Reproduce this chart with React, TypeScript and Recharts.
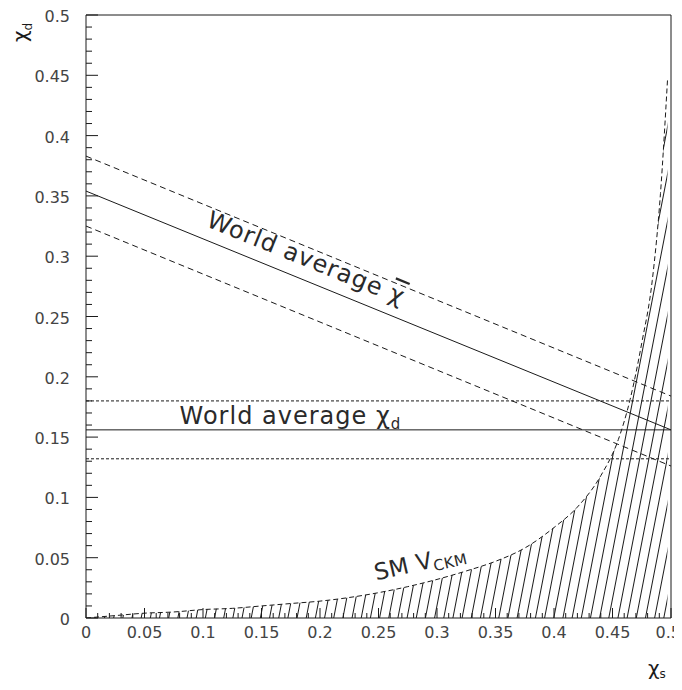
import { ComposedChart, Area, XAxis, YAxis, ReferenceLine, ReferenceDot } from 'recharts';

// SM expectation: chi_d as a function of chi_s (upper edge of the hatched region)
const chiS = [0, 0.025, 0.05, 0.075, 0.1, 0.125, 0.15, 0.175, 0.2, 0.225, 0.25, 0.275, 0.3, 0.325, 0.35, 0.375, 0.4, 0.42, 0.44, 0.455, 0.465, 0.475, 0.484, 0.491, 0.497];
const smChiD = [0, 0.002, 0.004, 0.005, 0.007, 0.008, 0.01, 0.012, 0.014, 0.017, 0.021, 0.026, 0.032, 0.039, 0.047, 0.058, 0.075, 0.092, 0.118, 0.148, 0.181, 0.228, 0.28, 0.352, 0.446];

// World average chi-bar band, as chi_d at chi_s = 0 and chi_s = 0.5
const chiBarCentral = [0.354, 0.156];
const chiBarUpper = [0.383, 0.184];
const chiBarLower = [0.325, 0.126];

// World average chi_d and its error band
const chiDCentral = 0.156;
const chiDUpper = 0.18;
const chiDLower = 0.132;

const majorTicks = [0, 0.05, 0.1, 0.15, 0.2, 0.25, 0.3, 0.35, 0.4, 0.45, 0.5];
const tickLabels = ['0', '0.05', '0.1', '0.15', '0.2', '0.25', '0.3', '0.35', '0.4', '0.45', '0.5'];
const allTicks = Array.from({ length: 51 }, (_, i) => i / 100);

const data = chiS.map((s, i) => ({ chiS: s, smChiD: smChiD[i] }));

const INK = '#1a1a1a';
const FONT = '"DejaVu Sans", Verdana, sans-serif';

const majorIndex = (v: number) => majorTicks.findIndex((m) => Math.abs(m - v) < 1e-6);

const XTick = ({ x, y, payload }: any) => {
  const idx = majorIndex(payload.value);
  const major = idx >= 0;
  // last label is pulled in so it stays inside the page
  const last = idx === majorTicks.length - 1;
  return (
    <g>
      <line x1={x} x2={x} y1={y} y2={y - (major ? 10 : 5)} stroke={INK} strokeWidth={1} />
      {major && (
        <text
          x={last ? x + 10 : x}
          y={y + 20}
          textAnchor={last ? 'end' : 'middle'}
          fontFamily={FONT}
          fontSize={16}
          fill="#444"
        >
          {tickLabels[idx]}
        </text>
      )}
    </g>
  );
};

const YTick = ({ x, y, payload }: any) => {
  const idx = majorIndex(payload.value);
  const major = idx >= 0;
  return (
    <g>
      <line x1={x} x2={x + (major ? 12 : 6)} y1={y} y2={y} stroke={INK} strokeWidth={1} />
      {major && (
        <text x={x - 16} y={y + 7} textAnchor="end" fontFamily={FONT} fontSize={16} fill="#444">
          {tickLabels[idx]}
        </text>
      )}
    </g>
  );
};

const labelStyle = { fontFamily: FONT, fontSize: 24, fill: '#2a2a2a', letterSpacing: 1 } as const;

const ChiBarLabel = ({ cx, cy }: any) => (
  <text x={cx} y={cy} transform={`rotate(22 ${cx} ${cy})`} {...labelStyle}>
    World average{' '}
    <tspan style={{ textDecoration: 'overline' }}>χ</tspan>
  </text>
);

const ChiDLabel = ({ cx, cy }: any) => (
  <text x={cx} y={cy} {...labelStyle}>
    World average χ
    <tspan fontSize={15} dy={5}>d</tspan>
  </text>
);

const SmLabel = ({ cx, cy }: any) => (
  <text x={cx} y={cy} transform={`rotate(-13 ${cx} ${cy})`} {...labelStyle} fontSize={23} letterSpacing={0.4}>
    SM V
    <tspan fontSize={15} dy={4}>CKM</tspan>
  </text>
);

export default function App() {
  return (
    <div style={{ position: 'relative', width: 682, height: 680, marginLeft: -8, marginTop: -8, background: '#fff' }}>
      <ComposedChart width={682} height={680} data={data} margin={{ top: 15, right: 11, left: 26, bottom: 32 }}>
        <defs>
          <pattern id="hatch" patternUnits="userSpaceOnUse" width={9} height={9} patternTransform="rotate(11)">
            <line x1={4.5} x2={4.5} y1={0} y2={9} stroke={INK} strokeWidth={1} />
          </pattern>
        </defs>
        <XAxis
          dataKey="chiS"
          type="number"
          domain={[0, 0.5]}
          ticks={allTicks}
          interval={0}
          tickSize={0}
          tickMargin={0}
          height={30}
          allowDataOverflow
          axisLine={{ stroke: INK }}
          tick={<XTick />}
        />
        <YAxis
          type="number"
          domain={[0, 0.5]}
          ticks={allTicks}
          interval={0}
          tickSize={0}
          tickMargin={0}
          width={60}
          allowDataOverflow
          axisLine={{ stroke: INK }}
          tick={<YTick />}
        />
        <Area
          type="monotone"
          dataKey="smChiD"
          stroke={INK}
          strokeWidth={1}
          strokeDasharray="5 3"
          fill="url(#hatch)"
          fillOpacity={1}
          baseValue={0}
          dot={false}
          activeDot={false}
          isAnimationActive={false}
        />
        {/* chi-bar band */}
        <ReferenceLine segment={[{ x: 0, y: chiBarCentral[0] }, { x: 0.5, y: chiBarCentral[1] }]} stroke={INK} strokeWidth={1} />
        <ReferenceLine segment={[{ x: 0, y: chiBarUpper[0] }, { x: 0.5, y: chiBarUpper[1] }]} stroke={INK} strokeDasharray="6 4" />
        <ReferenceLine segment={[{ x: 0, y: chiBarLower[0] }, { x: 0.5, y: chiBarLower[1] }]} stroke={INK} strokeDasharray="6 4" />
        {/* chi_d band */}
        <ReferenceLine y={chiDCentral} stroke={INK} strokeWidth={1} />
        <ReferenceLine y={chiDUpper} stroke={INK} strokeDasharray="3 2" />
        <ReferenceLine y={chiDLower} stroke={INK} strokeDasharray="3 2" />
        {/* frame */}
        <ReferenceLine y={0.5} stroke={INK} />
        <ReferenceLine x={0.5} stroke={INK} />
        <ReferenceDot x={0.102} y={0.325} r={0} shape={<ChiBarLabel />} />
        <ReferenceDot x={0.08} y={0.161} r={0} shape={<ChiDLabel />} />
        <ReferenceDot x={0.248} y={0.031} r={0} shape={<SmLabel />} />
      </ComposedChart>
      <div
        style={{
          position: 'absolute',
          left: 10,
          top: 42,
          transform: 'rotate(-90deg)',
          transformOrigin: 'left top',
          fontFamily: FONT,
          fontSize: 20,
          color: INK,
          lineHeight: 1,
          whiteSpace: 'nowrap',
        }}
      >
        χ<sub style={{ fontSize: 12 }}>d</sub>
      </div>
      <div
        style={{
          position: 'absolute',
          left: 648,
          top: 658,
          fontFamily: FONT,
          fontSize: 20,
          color: INK,
          lineHeight: 1,
          whiteSpace: 'nowrap',
        }}
      >
        χ<sub style={{ fontSize: 12, verticalAlign: 'baseline', position: 'relative', top: 3 }}>s</sub>
      </div>
    </div>
  );
}
